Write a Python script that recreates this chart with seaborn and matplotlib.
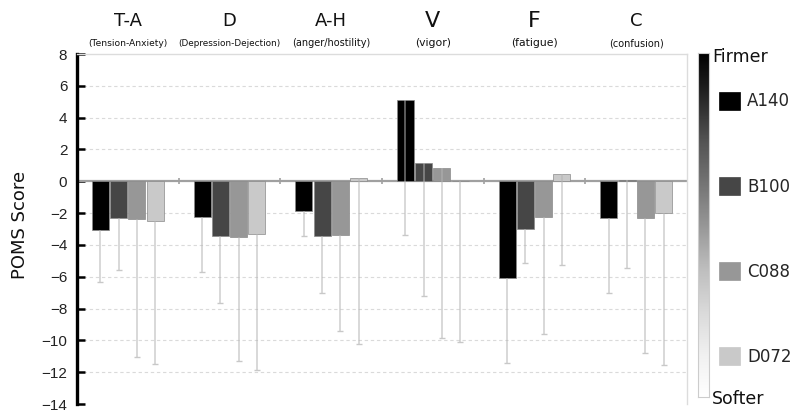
import numpy as np
import pandas as pd
import matplotlib
matplotlib.use("Agg")
import matplotlib.pyplot as plt
import seaborn as sns

# POMS sub-scales and shoe models
scales = ["T-A", "D", "A-H", "V", "F", "C"]
scale_names = ["(Tension-Anxiety)", "(Depression-Dejection)", "(anger/hostility)",
               "(vigor)", "(fatigue)", "(confusion)"]
shoes = ["A140", "B100", "C088", "D072"]

# mean change in POMS score, one list per shoe (order follows `scales`)
a140 = [-3.05, -2.22, -1.85, 5.12, -6.11, -2.33]
b100 = [-2.28, -3.42, -3.42, 1.15, -3.02, 0.10]
c088 = [-2.39, -3.52, -3.40, 0.86, -2.22, -2.33]
d072 = [-2.51, -3.33, 0.19, 0.00, 0.45, -2.02]

# one-sided (downward) error extents
a140_err = [3.29, 3.50, 1.61, 8.48, 5.29, 4.67]
b100_err = [3.28, 4.26, 3.58, 8.37, 2.13, 5.53]
c088_err = [8.66, 7.78, 6.01, 10.74, 7.37, 8.47]
d072_err = [8.95, 8.52, 10.42, 10.08, 5.72, 9.52]

y_ticks = [8, 6, 4, 2, 0, -2, -4, -6, -8, -10, -12, -14]

values = {"A140": a140, "B100": b100, "C088": c088, "D072": d072}
errors = {"A140": a140_err, "B100": b100_err, "C088": c088_err, "D072": d072_err}

df = pd.DataFrame([
    {"scale": s, "shoe": sh, "score": values[sh][i], "err": errors[sh][i]}
    for sh in shoes for i, s in enumerate(scales)
])

sns.set_theme(style="white")
plt.rcParams["font.family"] = ["DejaVu Sans"]

palette = {"A140": "#000000", "B100": "#464646", "C088": "#979797", "D072": "#c9c9c9"}

W, H = 797, 412
fig = plt.figure(figsize=(W / 100, H / 100), dpi=100)
ax = fig.add_axes([77 / W, 1 - 404 / H, 610 / W, 350 / H])

# dashed horizontal guides
for t in y_ticks:
    if t not in (0, 8, -14):
        ax.axhline(t, color="#dadada", lw=0.8, ls=(0, (3, 2.5)), zorder=0)

sns.barplot(data=df, x="scale", y="score", hue="shoe", order=scales, hue_order=shoes,
            palette=palette, width=0.72, gap=0.07, errorbar=None,
            edgecolor="#8a8a8a", linewidth=0.5, ax=ax, zorder=2)

# zero line and group separator ticks
ax.axhline(0, color="#a0a0a0", lw=1.6, zorder=1.5)
ax.plot(np.arange(len(scales) - 1) + 0.5, np.zeros(len(scales) - 1), ls="none",
        marker="|", ms=4, mew=1.2, color="#a0a0a0", zorder=1.5)

# one-sided error lines drawn from each bar's value downward
for cont, sh in zip(ax.containers, shoes):
    for bar, v, e in zip(cont, values[sh], errors[sh]):
        x = bar.get_x() + bar.get_width() / 2
        ax.vlines(x, v - e, v, color="#b4b4b4", alpha=0.55, lw=1.3, zorder=3)
        ax.plot([x], [v - e], marker="_", ms=4, mew=1.0, color="#c8c8c8", zorder=3)

ax.set_xlim(-0.5, len(scales) - 0.5)
ax.set_ylim(-14, 8)
ax.set_yticks(y_ticks)
ax.set_yticklabels([str(t).replace("-", "\u2212") for t in y_ticks],
                   fontfamily="Liberation Sans", fontsize=11, color="#222222")
ax.tick_params(axis="y", direction="in", length=6, width=1.8, color="black", pad=7, left=True)
ax.set_xticks([])
ax.set_xlabel("")
ax.set_ylabel("")

for side in ("top", "right"):
    ax.spines[side].set_color("#dcdcdc")
    ax.spines[side].set_linewidth(1.0)
ax.spines["bottom"].set_visible(False)
ax.spines["left"].set_color("black")
ax.spines["left"].set_linewidth(2.4)

fig.text(20 / W, 1 - 225 / H, "POMS Score", rotation=90, ha="center", va="center",
         fontsize=13, color="#111111", fontweight="medium")

# sub-scale headers above the plot
head_sizes = [13, 13, 13, 16, 16, 13]
sub_sizes = [6.6, 6.4, 7.0, 7.8, 7.8, 7.0]
for i, (h, n) in enumerate(zip(scales, scale_names)):
    xf = fig.transFigure.inverted().transform(ax.transData.transform((i, 0)))[0]
    fig.text(xf, 1 - 21 / H, h, ha="center", va="center", fontsize=head_sizes[i],
             color="#111111")
    fig.text(xf, 1 - 43 / H, n, ha="center", va="center", fontsize=sub_sizes[i],
             color="#111111")

ax.get_legend().remove()

# firmness gradient bar
cax = fig.add_axes([698 / W, 1 - 397 / H, 11 / W, 344 / H])
grad = np.linspace(1, 0, 256).reshape(-1, 1)
cax.imshow(grad, aspect="auto", cmap="Greys", vmin=0, vmax=1)
cax.set_xticks([])
cax.set_yticks([])
for sp in cax.spines.values():
    sp.set_color("#cccccc")
    sp.set_linewidth(0.8)
fig.text(712 / W, 1 - 57 / H, "Firmer", ha="left", va="center", fontsize=12.5, color="#111111")
fig.text(712 / W, 1 - 399 / H, "Softer", ha="left", va="center", fontsize=12.5, color="#111111")

handles = [h for h in ax.containers]
leg = fig.legend(handles, shoes, loc="upper left", bbox_to_anchor=(719 / W, 1 - 92 / H),
                 frameon=False, fontsize=12, handlelength=1.25, handleheight=1.25,
                 handletextpad=0.45, labelspacing=4.0, borderpad=0, borderaxespad=0)
for p in leg.get_patches():
    p.set_edgecolor(p.get_facecolor())

fig.savefig("out.png", dpi=100)
